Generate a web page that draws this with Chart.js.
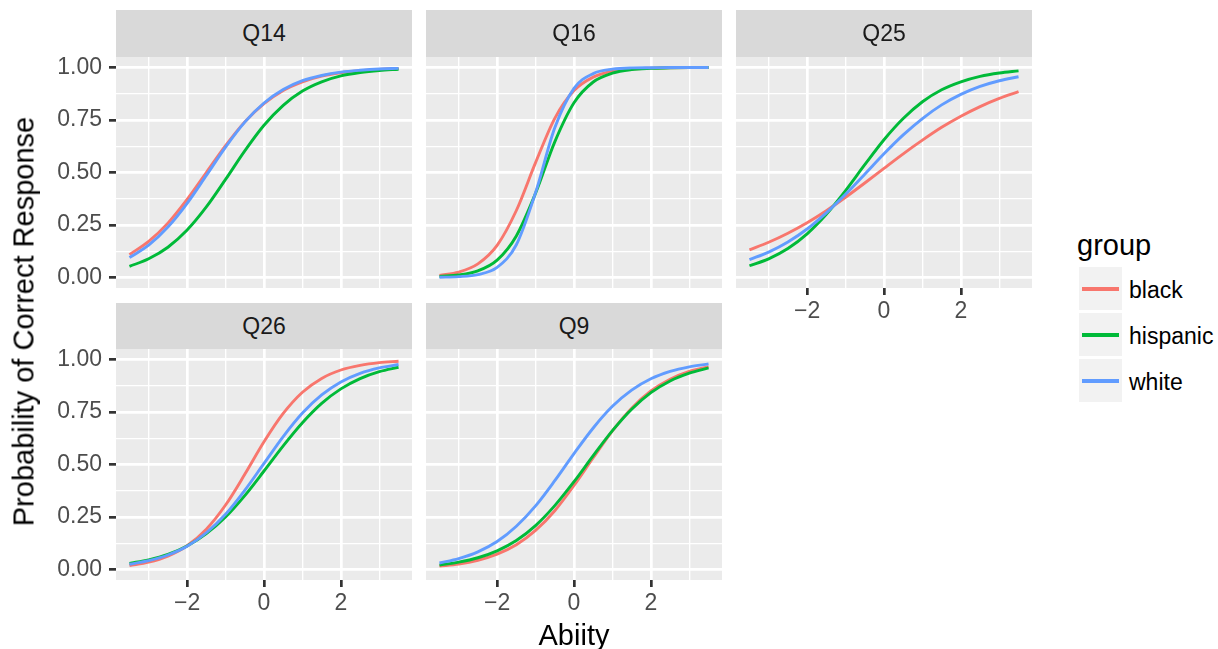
<!DOCTYPE html>
<html>
<head>
<meta charset="utf-8">
<script src="https://cdn.jsdelivr.net/npm/chart.js@4.4.0/dist/chart.umd.min.js"></script>
<style>
  body {
    margin: 0;
    width: 1218px;
    height: 649px;
    overflow: hidden;
    position: relative;
    background: #fff;
    font-family: "Liberation Sans", Arial, sans-serif;
  }
  canvas { position: absolute; }
  .strip {
    position: absolute;
    background: #d9d9d9;
    color: #1a1a1a;
    font-size: 23px;
    display: flex;
    align-items: center;
    justify-content: center;
    z-index: 2;
  }
  .title {
    position: absolute;
    font-size: 29px;
    line-height: 29px;
    color: #000;
    white-space: nowrap;
    text-align: center;
  }
  .key {
    position: absolute;
    width: 43px;
    height: 43px;
    background: #f2f2f2;
  }
  .key span {
    position: absolute;
    left: 3px;
    width: 37px;
    height: 4px;
    top: 19.5px;
  }
  .keylabel {
    position: absolute;
    font-size: 23px;
    line-height: 43px;
    color: #000;
  }
</style>
</head>
<body>
<script>
// item characteristic curves, sampled every half unit of ability
const abilities = [-3.5, -3, -2.5, -2, -1.5, -1, -0.5, 0, 0.5, 1, 1.5, 2, 2.5, 3, 3.5];
const groups = ["black", "hispanic", "white"];
const groupColors = ["#F8766D", "#00BA38", "#619CFF"];

const xTicks = [-3, -2, -1, 0, 1, 2, 3];
const yTicks = [0, 0.125, 0.25, 0.375, 0.5, 0.625, 0.75, 0.875, 1];

const q14Black    = [0.109, 0.172, 0.259, 0.372, 0.500, 0.628, 0.741, 0.828, 0.891, 0.932, 0.959, 0.975, 0.985, 0.991, 0.995];
const q14Hispanic = [0.053, 0.089, 0.144, 0.226, 0.336, 0.467, 0.603, 0.725, 0.820, 0.888, 0.932, 0.960, 0.976, 0.986, 0.992];
const q14White    = [0.095, 0.154, 0.240, 0.353, 0.486, 0.621, 0.740, 0.831, 0.895, 0.937, 0.962, 0.978, 0.987, 0.993, 0.996];

const q16Black    = [0.010, 0.026, 0.065, 0.153, 0.319, 0.547, 0.758, 0.890, 0.954, 0.982, 0.993, 0.997, 0.999, 1.000, 1.000];
const q16Hispanic = [0.005, 0.012, 0.032, 0.083, 0.198, 0.401, 0.646, 0.832, 0.931, 0.973, 0.990, 0.996, 0.999, 1.000, 1.000];
const q16White    = [0.001, 0.004, 0.014, 0.048, 0.156, 0.404, 0.713, 0.901, 0.971, 0.992, 0.998, 0.999, 1.000, 1.000, 1.000];

const q25Black    = [0.132, 0.168, 0.211, 0.261, 0.318, 0.382, 0.450, 0.520, 0.589, 0.654, 0.715, 0.768, 0.814, 0.853, 0.885];
const q25Hispanic = [0.056, 0.089, 0.138, 0.208, 0.301, 0.414, 0.537, 0.656, 0.757, 0.837, 0.894, 0.932, 0.958, 0.974, 0.984];
const q25White    = [0.085, 0.121, 0.169, 0.231, 0.308, 0.396, 0.492, 0.589, 0.679, 0.757, 0.822, 0.872, 0.910, 0.937, 0.956];

const q26Black    = [0.019, 0.035, 0.064, 0.113, 0.192, 0.307, 0.453, 0.608, 0.743, 0.844, 0.910, 0.950, 0.972, 0.985, 0.992];
const q26Hispanic = [0.029, 0.046, 0.072, 0.112, 0.171, 0.250, 0.352, 0.469, 0.589, 0.699, 0.791, 0.860, 0.909, 0.942, 0.963];
const q26White    = [0.025, 0.042, 0.069, 0.111, 0.175, 0.263, 0.377, 0.505, 0.633, 0.745, 0.831, 0.893, 0.934, 0.960, 0.976];

const q9Black     = [0.016, 0.026, 0.044, 0.073, 0.118, 0.186, 0.280, 0.400, 0.532, 0.660, 0.768, 0.850, 0.906, 0.943, 0.966];
const q9Hispanic  = [0.021, 0.035, 0.056, 0.089, 0.138, 0.209, 0.304, 0.418, 0.542, 0.661, 0.763, 0.842, 0.898, 0.935, 0.960];
const q9White     = [0.031, 0.052, 0.084, 0.133, 0.206, 0.303, 0.423, 0.552, 0.674, 0.777, 0.854, 0.908, 0.943, 0.965, 0.979];

const panels = [
  { name: "Q14", col: 0, row: 0, series: [q14Black, q14Hispanic, q14White], xAxis: false },
  { name: "Q16", col: 1, row: 0, series: [q16Black, q16Hispanic, q16White], xAxis: false },
  { name: "Q25", col: 2, row: 0, series: [q25Black, q25Hispanic, q25White], xAxis: true },
  { name: "Q26", col: 0, row: 1, series: [q26Black, q26Hispanic, q26White], xAxis: true },
  { name: "Q9",  col: 1, row: 1, series: [q9Black, q9Hispanic, q9White],   xAxis: true }
];

// facet geometry
const colLeft = [116, 426, 736];
const rowTop = [57, 349];
const stripTop = [10, 303];
const panelW = 296;
const panelH = 231;
const yAxisW = 116;
const xAxisH = 40;
const pad = 25;

const tickFont = { family: "'Liberation Sans', Arial, sans-serif", size: 23 };

// grey panel background behind the grid
const panelBg = {
  id: "panelBg",
  beforeDraw(chart) {
    const a = chart.chartArea;
    const ctx = chart.ctx;
    ctx.save();
    ctx.fillStyle = "#ebebeb";
    ctx.fillRect(a.left, a.top, a.right - a.left, a.bottom - a.top);
    ctx.restore();
  }
};

function isMajorX(v) { return v % 2 === 0; }
function isMajorY(v) { return Math.abs(v * 4 - Math.round(v * 4)) < 1e-9; }

function fmtX(v) {
  return v < 0 ? "\u2212" + Math.abs(v) : String(v);
}

panels.forEach(function (p) {
  const hasY = p.col === 0;
  const left = colLeft[p.col] - (hasY ? yAxisW : 0) - pad;
  const top = rowTop[p.row] - pad;
  const w = panelW + (hasY ? yAxisW : 0) + 2 * pad;
  const h = panelH + (p.xAxis ? xAxisH : 0) + 2 * pad;

  const canvas = document.createElement("canvas");
  canvas.width = w;
  canvas.height = h;
  canvas.style.left = left + "px";
  canvas.style.top = top + "px";
  canvas.style.width = w + "px";
  canvas.style.height = h + "px";
  document.body.appendChild(canvas);

  const strip = document.createElement("div");
  strip.className = "strip";
  strip.style.left = colLeft[p.col] + "px";
  strip.style.top = stripTop[p.row] + "px";
  strip.style.width = panelW + "px";
  strip.style.height = (rowTop[p.row] - stripTop[p.row]) + "px";
  strip.textContent = p.name;
  document.body.appendChild(strip);

  const datasets = p.series.map(function (vals, i) {
    return {
      label: groups[i],
      data: abilities.map(function (x, j) { return { x: x, y: vals[j] }; }),
      borderColor: groupColors[i],
      borderWidth: 2.9,
      pointRadius: 0,
      cubicInterpolationMode: "monotone",
      fill: false,
      order: groups.length - 1 - i
    };
  });

  new Chart(canvas.getContext("2d"), {
    type: "line",
    data: { datasets: datasets },
    plugins: [panelBg],
    options: {
      responsive: false,
      animation: false,
      events: [],
      layout: { padding: pad },
      plugins: { legend: { display: false }, tooltip: { enabled: false } },
      scales: {
        x: {
          type: "linear",
          min: -3.85,
          max: 3.85,
          afterBuildTicks: function (scale) {
            scale.ticks = xTicks.map(function (v) { return { value: v }; });
          },
          afterFit: function (scale) { scale.height = p.xAxis ? xAxisH : 0; },
          border: { display: false },
          grid: {
            color: "#ffffff",
            lineWidth: function (c) { return isMajorX(c.tick.value) ? 2.7 : 1.35; },
            drawTicks: p.xAxis,
            tickLength: 7,
            tickColor: function (c) { return isMajorX(c.tick.value) ? "#333333" : "rgba(0,0,0,0)"; },
            tickWidth: 2.7
          },
          ticks: {
            display: p.xAxis,
            autoSkip: false,
            maxRotation: 0,
            padding: 3,
            color: "#4d4d4d",
            font: tickFont,
            callback: function (v) { return isMajorX(v) ? fmtX(v) : ""; }
          }
        },
        y: {
          type: "linear",
          min: -0.05,
          max: 1.05,
          afterBuildTicks: function (scale) {
            scale.ticks = yTicks.map(function (v) { return { value: v }; });
          },
          afterFit: function (scale) { scale.width = hasY ? yAxisW : 0; },
          border: { display: false },
          grid: {
            color: "#ffffff",
            lineWidth: function (c) { return isMajorY(c.tick.value) ? 2.7 : 1.35; },
            drawTicks: hasY,
            tickLength: 7,
            tickColor: function (c) { return isMajorY(c.tick.value) ? "#333333" : "rgba(0,0,0,0)"; },
            tickWidth: 2.7
          },
          ticks: {
            display: hasY,
            autoSkip: false,
            padding: 7,
            color: "#4d4d4d",
            font: tickFont,
            callback: function (v) { return isMajorY(v) ? v.toFixed(2) : ""; }
          }
        }
      }
    }
  });
});

// axis titles
const yTitle = document.createElement("div");
yTitle.className = "title";
yTitle.style.width = "600px";
yTitle.style.left = (24 - 300) + "px";
yTitle.style.top = (321 - 14.5) + "px";
yTitle.style.transform = "rotate(-90deg)";
yTitle.textContent = "Probability of Correct Response";
document.body.appendChild(yTitle);

const xTitle = document.createElement("div");
xTitle.className = "title";
xTitle.style.width = "400px";
xTitle.style.left = (574 - 200) + "px";
xTitle.style.top = "621px";
xTitle.textContent = "Abiity";
document.body.appendChild(xTitle);

// legend
const legTitle = document.createElement("div");
legTitle.className = "title";
legTitle.style.left = "1077px";
legTitle.style.top = "231px";
legTitle.style.textAlign = "left";
legTitle.textContent = "group";
document.body.appendChild(legTitle);

groups.forEach(function (g, i) {
  const key = document.createElement("div");
  key.className = "key";
  key.style.left = "1079px";
  key.style.top = (267 + i * 46) + "px";
  const line = document.createElement("span");
  line.style.background = groupColors[i];
  key.appendChild(line);
  document.body.appendChild(key);

  const lab = document.createElement("div");
  lab.className = "keylabel";
  lab.style.left = "1129px";
  lab.style.top = (269 + i * 46) + "px";
  lab.textContent = g;
  document.body.appendChild(lab);
});
</script>
</body>
</html>
